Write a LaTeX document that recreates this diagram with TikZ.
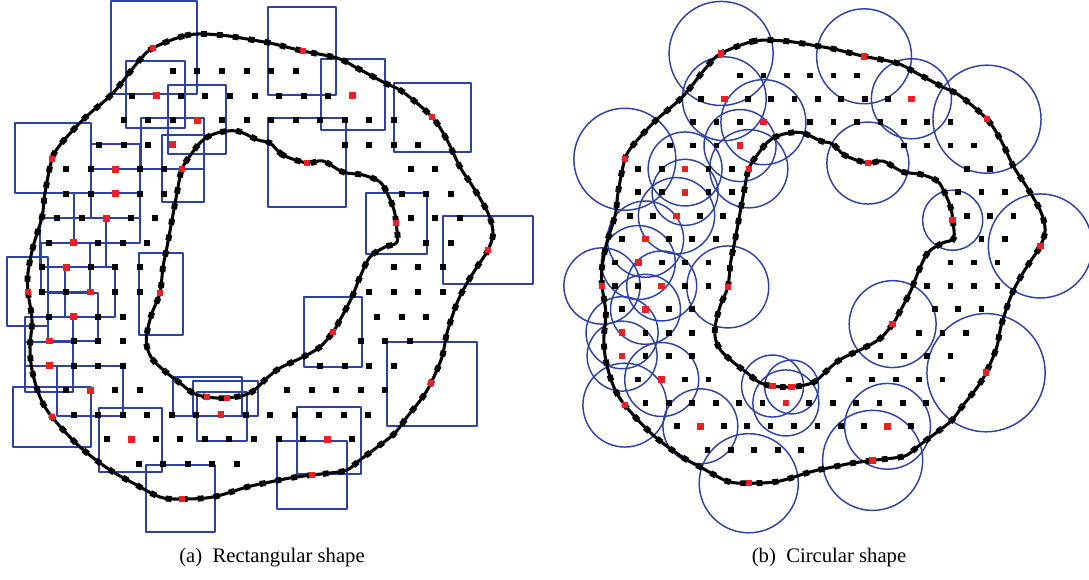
\documentclass[tikz,border=0pt]{standalone}
\usepackage{fontspec}
\setmainfont{Liberation Serif}
\usetikzlibrary{decorations.markings}
\definecolor{boxblue}{RGB}{46,66,166}
\definecolor{seedred}{RGB}{236,32,36}

% ring: outer and inner contours, sample grid and seed points
\newcommand\drawring{%
  \draw[contour] plot[smooth cycle, tension=0.55] coordinates {
    (153,48) (188,35) (220,35) (253,40) (270,43) (303,51) (337,58) (357,68)
    (385,83) (403,92) (432,117) (447,140) (460,167) (473,187) (488,213)
    (493,233) (488,250) (477,267) (467,283) (457,303) (447,333) (442,357)
    (431,383) (422,398) (407,417) (395,433) (380,445) (360,460) (347,470)
    (330,473) (312,475) (290,478) (270,482) (247,487) (213,497) (182,499)
    (160,497) (133,483) (110,470) (80,447) (52,417) (40,397) (32,370)
    (30,347) (32,320) (28,292) (28,273) (33,247) (42,217) (45,193) (52,159)
    (60,145) (75,128) (88,115) (113,93) (138,62)};
  \draw[contour] plot[smooth cycle, tension=0.55] coordinates {
    (270,143) (283,155) (307,163) (323,161) (343,172) (363,175) (380,182)
    (388,195) (394,210) (396,223) (397,242) (385,247) (370,257) (360,277)
    (352,297) (340,320) (333,332) (320,347) (303,357) (280,368) (267,378)
    (250,393) (227,398) (207,397) (193,393) (180,383) (167,373) (153,360)
    (147,347) (147,333) (152,313) (160,293) (163,267) (167,247) (172,220)
    (177,193) (182,169) (192,153) (203,140) (217,133) (237,131) (258,140)};
  % sample grid: row / offset / first column / last column
  \foreach \r/\o/\a/\b in {0/1/7/12, 1/9/5/14, 2/1/5/16, 3/1/4/7, 3/1/14/17,
      4/17/2/6, 4/18/16/17, 5/17/2/6, 5/9/16/18, 6/8/2/6, 6/18/16/18,
      7/0/2/6, 7/9/17/18, 8/17/1/5, 8/1/16/18, 9/17/1/5, 9/1/15/18,
      10/0/2/5, 10/9/15/17, 11/0/2/5, 11/17/14/16, 12/0/2/5, 12/1/13/16,
      13/17/2/5, 13/17/11/15, 14/0/3/15, 15/8.5/4/14, 16/16/5/9}{
    \foreach \i in {\a,...,\b}{
      \fill[black] (\o+24.55*\i-3, 71+24.55*\r-3) rectangle ++(6,6);
    }
  }
  % seed points
  \foreach \x/\y in {156.3/95.55, 352.7/95.55, 197.4/120.1, 172.85/144.65,
      115.2/169.2, 115.2/193.75, 106.2/218.3, 73.65/242.85, 66.1/267.4,
      90.65/291.95, 73.65/316.5, 49.1/341.05, 49.1/365.6, 90.65/390.15,
      220.95/414.7, 131.25/439.25, 327.65/439.25,
      153/48, 303/51, 432/117, 52/159, 182/169, 307/163, 396/223, 488/250,
      28/292, 160/293, 333/332, 431/383, 52/417, 207/397, 227/398, 312/475,
      182/499}{
    \fill[seedred] (\x-3.4,\y-3.4) rectangle ++(6.8,6.8);
  }
}

\begin{document}
\begin{tikzpicture}[x=0.75pt,y=-0.75pt,
  contour/.style={line width=2.3pt, black, line join=round,
    postaction={decorate, decoration={markings,
      mark=between positions 0 and 1 step 12pt with
        {\fill[black] (-2.2pt,-2.2pt) rectangle (2.2pt,2.2pt);}}}},
  window/.style={draw=boxblue, line width=1.8pt, line join=round},
  disc/.style={draw=boxblue, line width=1.1pt},
  caption/.style={font=\fontsize{15.5}{18}\selectfont, inner sep=0pt}]
\useasboundingbox (0,0) rectangle (1089,579);

% (a) rectangular windows
\begin{scope}
  \foreach \xa/\ya/\xb/\yb in {111/1/197/94, 126/61/185/128, 168/85/226/154,
      141/118/204/169, 162/135/204/202, 15/123/91/193, 91/144/140/193,
      91/169/140/218, 74/193/140/243, 40/218/106/267, 41/243/90/292,
      65/267/115/317, 48/293/98/341, 25/317/73/366, 25/342/73/392,
      57/366/123/416, 13/387/91/447, 7/257/48/326, 139/253/183/335,
      173/377/242/416, 193/381/258/416, 197/392/247/441, 99/408/162/472,
      146/465/215/532, 304/297/362/367, 387/342/477/426, 297/407/361/474,
      277/441/347/509, 268/7/336/95, 321/59/385/130, 394/83/471/152,
      268/118/346/207, 366/193/427/254, 443/216/533/284}{
    \draw[window] (\xa,\ya) rectangle (\xb,\yb);
  }
  \drawring
\end{scope}

% (b) circular windows
\begin{scope}[shift={(575.3,7.7)}, scale=0.953]
  \foreach \x/\y/\rad in {153/48/54.6, 303/51/49.8, 352.7/95.55/42,
      432/117/56.7, 307/163/43, 396/223/31.5, 488/250/54.6, 431/383/62,
      333/332/45.6, 327.65/439.25/45, 312/475/52.5, 182/499/52,
      131.25/439.25/39.3, 207/397/32.5, 227/398/28.3, 220.95/414.7/34.6,
      160/293/43, 90.65/291.95/36.7, 28/292/40, 73.65/316.5/36.7,
      49.1/341.05/37.8, 49.1/365.6/36.7, 90.65/390.15/38.8, 52/417/44,
      115.2/169.2/38.8, 115.2/193.75/34.6, 106.2/218.3/40,
      73.65/242.85/40, 66.1/267.4/38.8, 52/159/53.5, 182/169/41,
      172.85/144.65/37.8, 197.4/120.1/44.6, 156.3/95.55/44}{
    \draw[disc] (\x,\y) circle (\rad);
  }
  \drawring
\end{scope}

\node[caption] (capa) at (272,558) {(a)\enskip Rectangular shape};
\node[caption] (capb) at (829,558) {(b)\enskip Circular shape};
\end{tikzpicture}
\end{document}
